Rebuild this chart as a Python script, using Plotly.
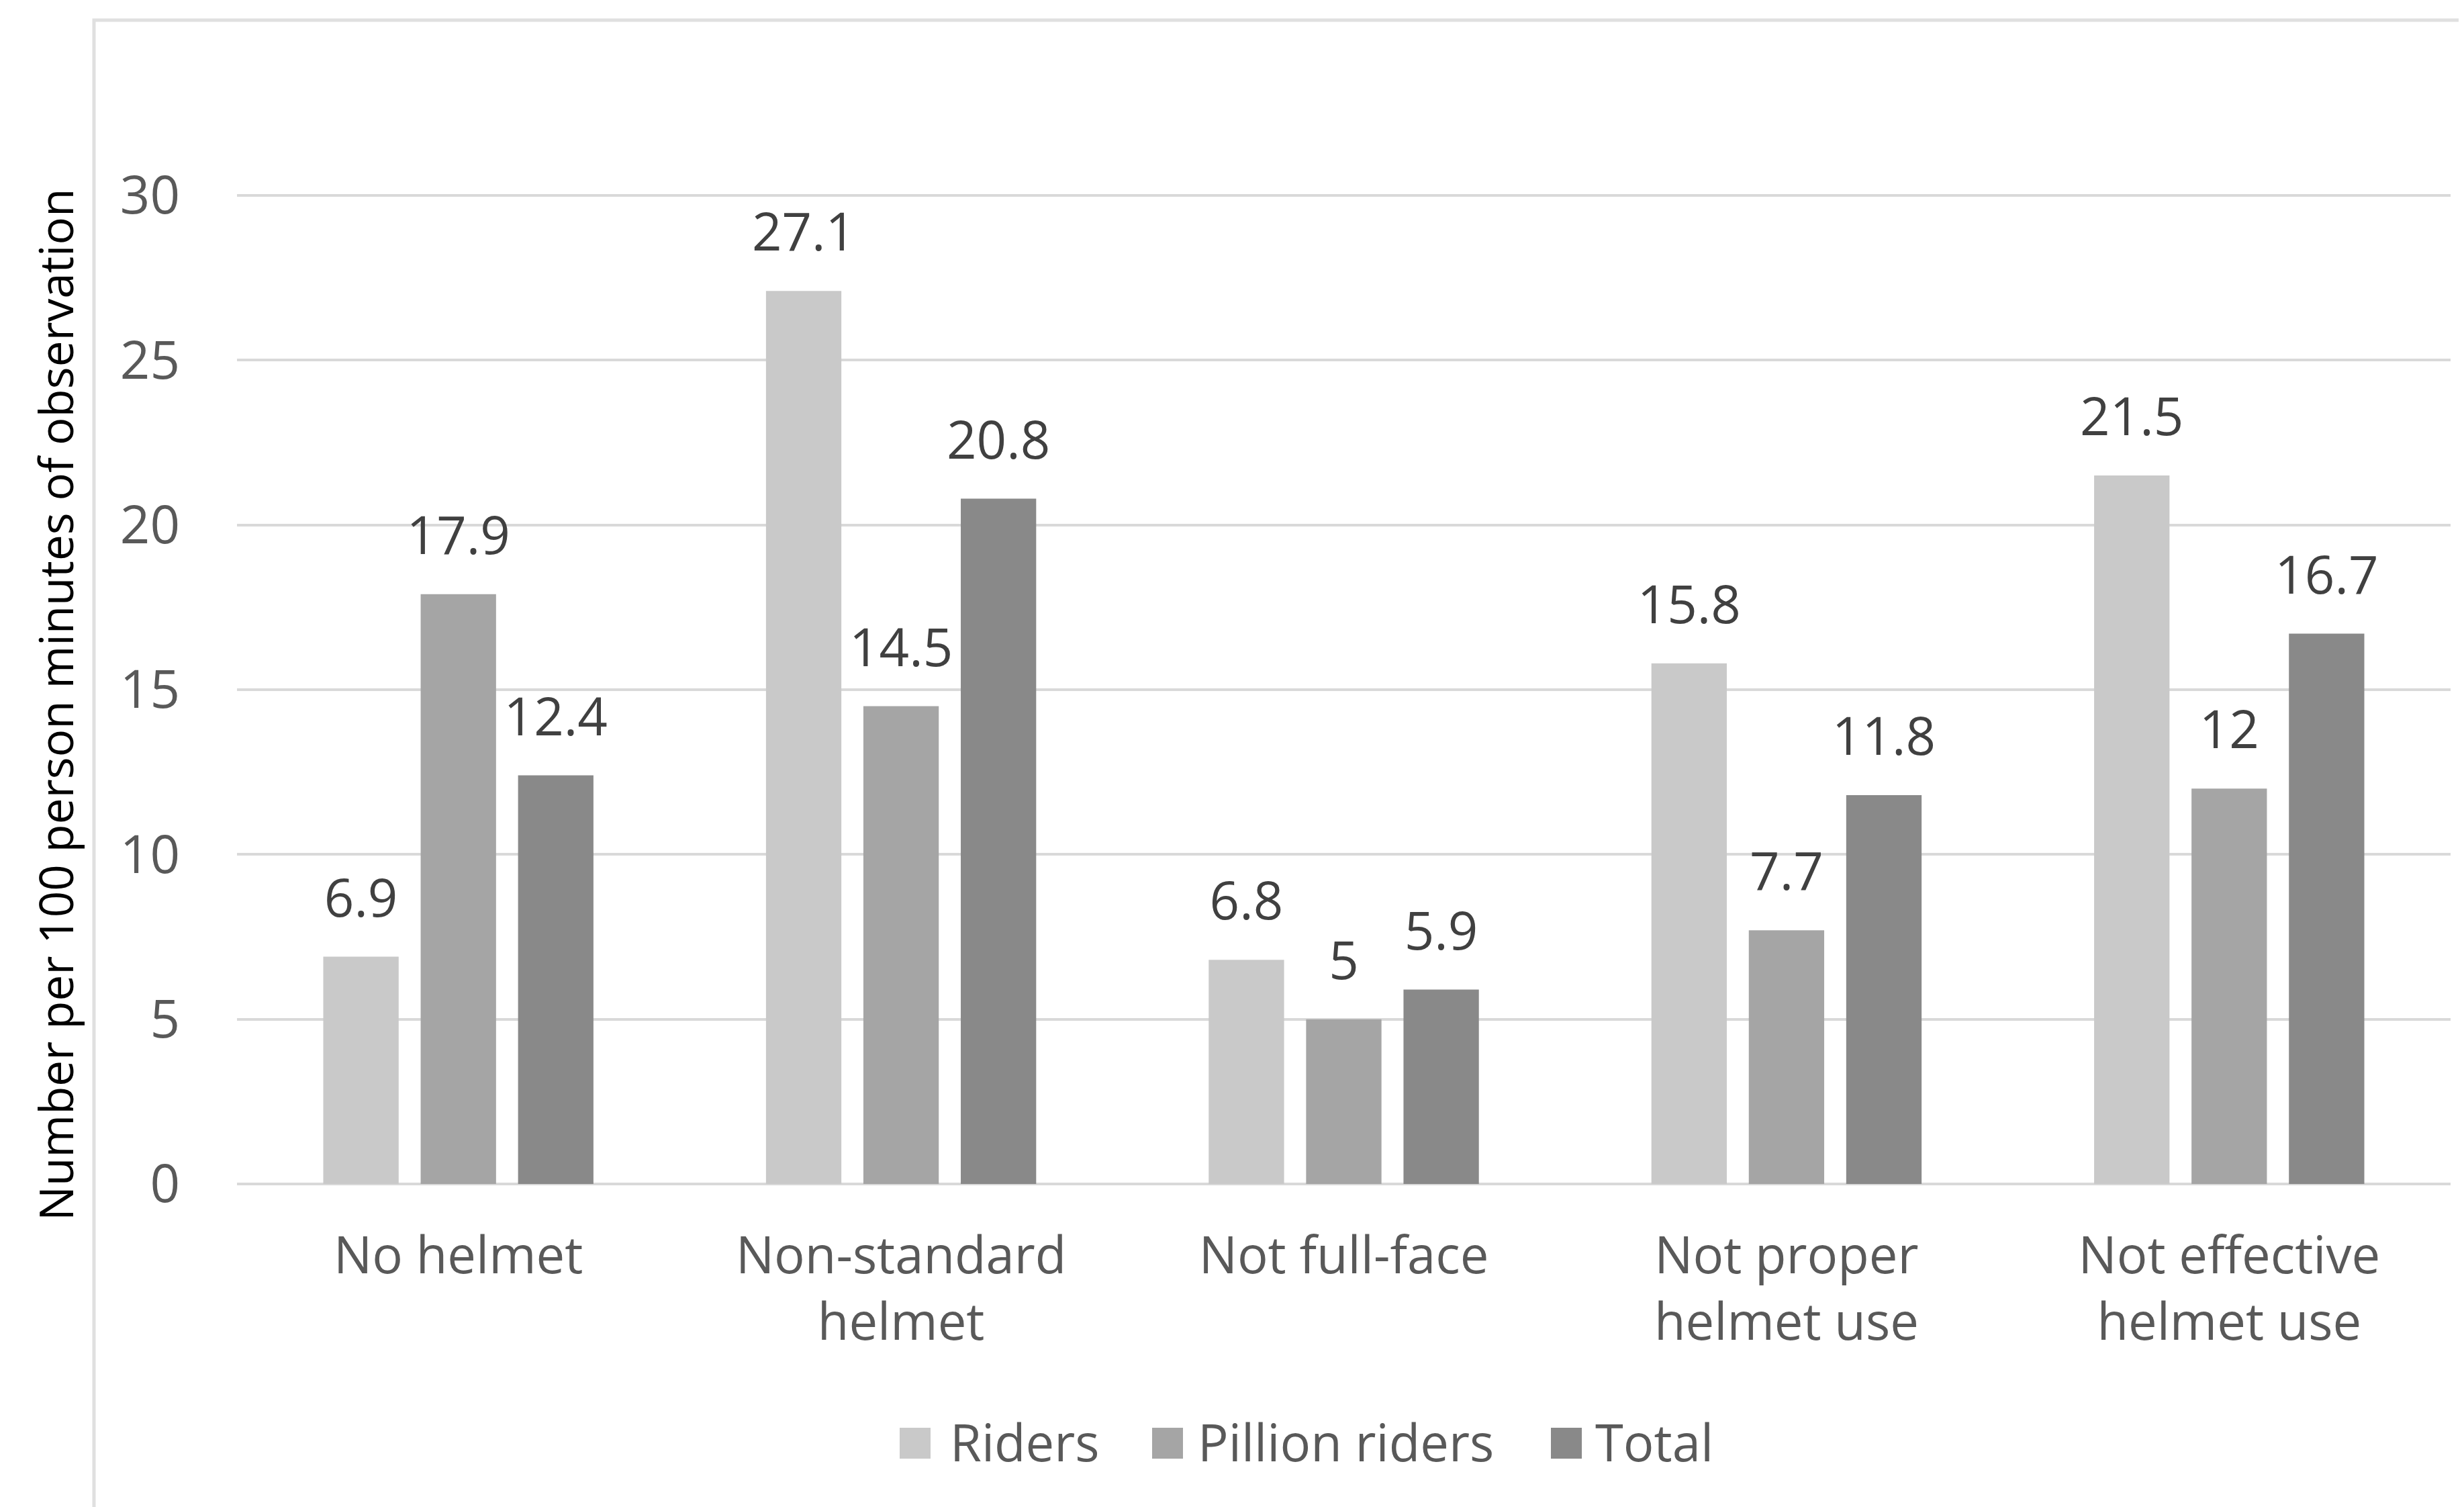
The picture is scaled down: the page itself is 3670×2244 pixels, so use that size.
import plotly.graph_objects as go

categories = ["No helmet", "Non-standard<br>helmet", "Not full-face",
              "Not proper<br>helmet use", "Not effective<br>helmet use"]
series_names = ["Riders", "Pillion riders", "Total"]
riders = [6.9, 27.1, 6.8, 15.8, 21.5]
pillion = [17.9, 14.5, 5, 7.7, 12]
total = [12.4, 20.8, 5.9, 11.8, 16.7]
y_ticks = [0, 5, 10, 15, 20, 25, 30]
y_title = "Number per 100 person minutes of observation"

colors = ["#c9c9c9", "#a5a5a5", "#898989"]
FONT = "Open Sans"
BARGAP = 0.34

W, H = 3670, 2244
L, R, T, B = 345, 28, 281, 489
pw, ph = W - L - R, H - T - B

fig = go.Figure()
for name, vals, col in zip(series_names, [riders, pillion, total], colors):
    fig.add_trace(go.Bar(
        name=name, x=categories, y=vals,
        marker=dict(color=col, line=dict(width=0)),
        showlegend=False, hoverinfo="skip",
    ))
# value labels, grouped like the bars
for name, vals in zip(series_names, [riders, pillion, total]):
    fig.add_trace(go.Scatter(
        name=name + " labels", x=categories, y=vals,
        mode="markers+text", text=[str(v) for v in vals],
        textposition="top center",
        marker=dict(size=63, opacity=0),
        textfont=dict(family=FONT, size=78, color="#404040"),
        cliponaxis=False, showlegend=False, hoverinfo="skip",
    ))


def px(xp):
    return (xp - L) / pw


def py(yp):
    return (H - B - yp) / ph


# manual legend (large swatches as in the reference)
legend_sq_x = [1332, 1708, 2302]
legend_tx_x = [1405, 1774, 2366]
shapes = [dict(type="rect", xref="paper", yref="paper",
               x0=px(132), x1=1.05, y0=-0.5, y1=py(22),
               line=dict(color="#e0e0e0", width=5), layer="below")]
annotations = [dict(text=y_title, textangle=-90, xref="paper", yref="paper",
                    x=px(74), y=py(1042), xanchor="center",
                    yanchor="middle", showarrow=False,
                    font=dict(family=FONT, size=69, color="#000000"))]
for name, col, sx, tx in zip(series_names, colors, legend_sq_x, legend_tx_x):
    shapes.append(dict(type="rect", xref="paper", yref="paper",
                       x0=px(sx), x1=px(sx + 46), y0=py(2164), y1=py(2118),
                       fillcolor=col, line=dict(width=0)))
    annotations.append(dict(text=name, xref="paper", yref="paper",
                            x=px(tx), y=py(2138), xanchor="left",
                            yanchor="middle", showarrow=False,
                            font=dict(family=FONT, size=76, color="#595959")))

fig.update_layout(
    width=W, height=H,
    margin=dict(l=L, r=R, t=T, b=B),
    paper_bgcolor="white", plot_bgcolor="white",
    barmode="group", bargap=BARGAP, bargroupgap=0.226,
    scattermode="group", scattergap=BARGAP,
    font=dict(family=FONT, size=76, color="#595959"),
    showlegend=False,
    xaxis=dict(showgrid=False, showline=False, zeroline=False, ticks="",
               tickfont=dict(family=FONT, size=76, color="#595959"),
               ticklabelstandoff=56),
    yaxis=dict(range=[0, 30.04], tickvals=y_ticks, showgrid=True,
               gridcolor="#d9d9d9", gridwidth=4, zeroline=True,
               zerolinecolor="#d9d9d9", zerolinewidth=4, showline=False,
               ticks="", ticklabelstandoff=84,
               tickfont=dict(family=FONT, size=78, color="#595959")),
    annotations=annotations,
    shapes=shapes,
)

fig.write_html("out.html")
